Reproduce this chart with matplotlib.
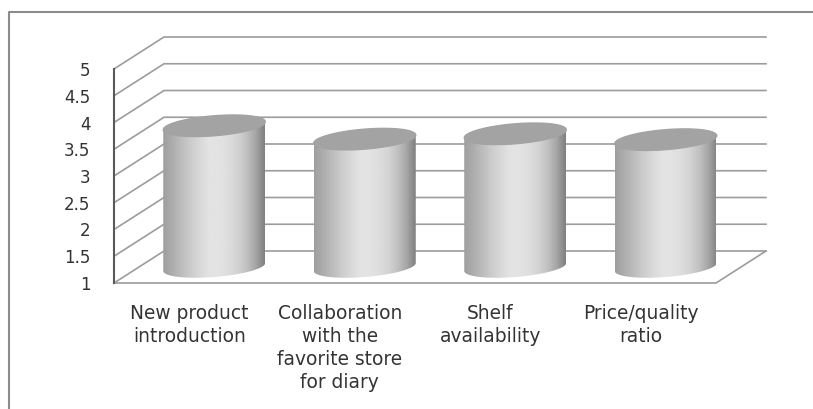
import numpy as np
import matplotlib
matplotlib.use("Agg")
import matplotlib.pyplot as plt
from matplotlib.lines import Line2D
from matplotlib.patches import PathPatch
from matplotlib.path import Path

categories = ["New product\nintroduction",
              "Collaboration\nwith the\nfavorite store\nfor diary",
              "Shelf\navailability",
              "Price/quality\nratio"]
values = [3.64, 3.39, 3.49, 3.38]
y_ticks = [1, 1.5, 2, 2.5, 3, 3.5, 4, 4.5, 5]
y_labels = ["1", "1.5", "2", "2.5", "3", "3.5", "4", "4.5", "5"]

W, H = 813, 409
fig = plt.figure(figsize=(W / 100, H / 100), dpi=100)
ax = fig.add_axes([114 / W, 1 - 283 / H, (716 - 114) / W, (283 - 69) / H])

# size of one pixel in data units, the 3d look is all done with offsets
px = 4 / (716 - 114)
py = 4 / (283 - 69)
dx = 50 * px
dy = 32 * py

grid = "#9c9c9c"
for v in y_ticks:
    ax.plot([-0.5, -0.5 + dx, 3.5 + dx], [v, v + dy, v + dy], color=grid, lw=1.2,
            clip_on=False, zorder=1)
ax.plot([-0.5, 3.5, 3.5 + dx], [1, 1, 1 + dy], color=grid, lw=1.2, clip_on=False, zorder=1)

t = np.linspace(0, 2 * np.pi, 120)
shade = np.array([0.62, 0.68, 0.74, 0.80, 0.85, 0.89, 0.89, 0.87, 0.83, 0.76, 0.65, 0.50])
for i, v in enumerate(values):
    cx = i + dx / 2
    base = 1 + dy / 2
    top = v + dy / 2
    rx, ry, tilt = 51 * px, 10 * py, 4 * py

    # body outline: top ellipse back half + bottom ellipse front half
    s = np.linspace(0, np.pi, 60)
    s2 = np.linspace(np.pi, 2 * np.pi, 60)
    xs = np.r_[cx + rx * np.cos(s), cx + rx * np.cos(s2)]
    ys = np.r_[top + ry * np.sin(s) + tilt * np.cos(s),
               base + ry * np.sin(s2) + tilt * np.cos(s2)]
    body = Path(np.c_[xs, ys])
    im = ax.imshow(np.interp(np.linspace(0, 11, 256), np.arange(12), shade)[None, :],
                   cmap="gray", vmin=0, vmax=1, aspect="auto",
                   extent=[cx - rx, cx + rx, 1, 5], zorder=3, interpolation="bilinear")
    im.set_clip_path(PathPatch(body, transform=ax.transData))

    ex = cx + rx * np.cos(t)
    ey = top + ry * np.sin(t) + tilt * np.cos(t)
    ax.fill(ex, ey, color="#a3a3a3", zorder=4, clip_on=False)

ax.set_xlim(-0.5, 3.5)
ax.set_ylim(1, 5)

for s in ["top", "right", "bottom"]:
    ax.spines[s].set_visible(False)
ax.spines["left"].set_color("#595959")
ax.spines["left"].set_linewidth(1.5)

ax.set_yticks(y_ticks)
ax.set_yticklabels(y_labels, fontsize=12, color="#333333")
ax.set_xticks(range(4))
ax.set_xticklabels(categories, fontsize=13.4, color="#333333", linespacing=1.27)
ax.tick_params(axis="both", length=0)
ax.tick_params(axis="x", pad=15)
ax.tick_params(axis="y", pad=17)
ax.patch.set_alpha(0)

# outer frame only has a top and a left edge in the picture
fig.add_artist(Line2D([9 / W, 9 / W, 1], [0, 1 - 12 / H, 1 - 12 / H], color="#8c8c8c", lw=1.5))

fig.savefig("out.png", dpi=100)
